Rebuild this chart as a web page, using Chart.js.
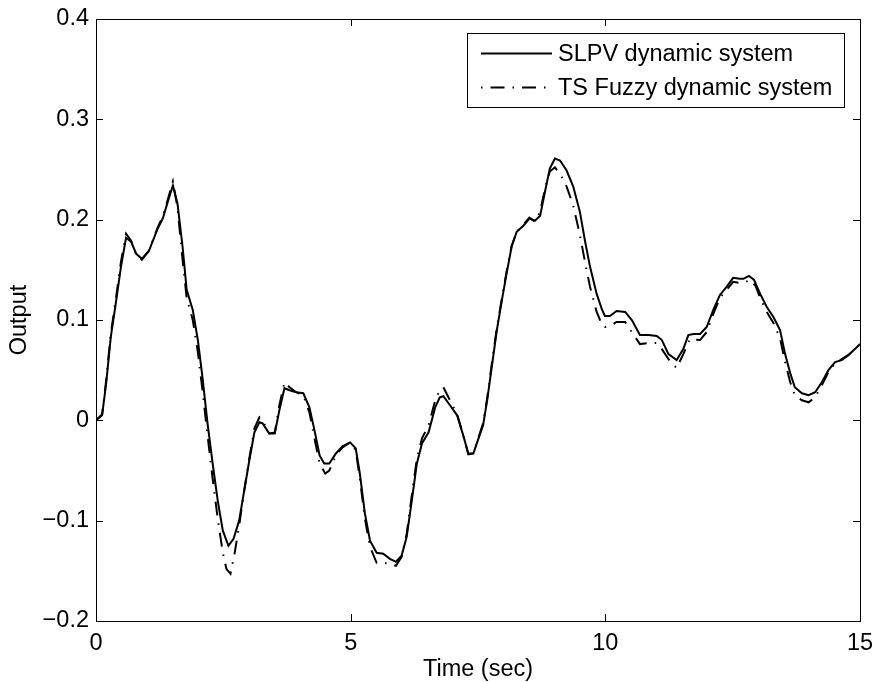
<!DOCTYPE html>
<html>
<head>
<meta charset="utf-8">
<script src="https://cdn.jsdelivr.net/npm/chart.js@4"></script>
<style>
html,body{margin:0;padding:0;background:#fff;}
#wrap{width:876px;height:682px;}
</style>
</head>
<body>
<div id="wrap"><canvas id="c" width="876" height="682"></canvas></div>
<script>
// ---- data ----
const seriesNames = ['SLPV dynamic system', 'TS Fuzzy dynamic system'];

const slpvTime = [0,0.12,0.2,0.29,0.39,0.49,0.59,0.69,0.79,0.90,1.04,1.21,1.31,1.41,1.51,1.60,1.70,1.78,1.90,2.00,2.09,2.19,2.29,2.39,2.49,2.60,2.70,2.81,2.91,3.01,3.11,3.21,3.27,3.40,3.51,3.60,3.70,3.80,3.93,4.07,4.19,4.29,4.39,4.48,4.58,4.71,4.84,4.99,5.10,5.18,5.28,5.38,5.51,5.64,5.77,5.89,6.00,6.10,6.20,6.30,6.40,6.53,6.66,6.75,6.82,6.95,7.09,7.21,7.31,7.41,7.51,7.60,7.68,7.77,7.87,7.97,8.06,8.16,8.26,8.39,8.51,8.62,8.72,8.82,8.91,9.01,9.11,9.24,9.37,9.50,9.60,9.70,9.83,9.93,9.99,10.09,10.22,10.39,10.52,10.68,10.85,11.01,11.11,11.24,11.40,11.53,11.63,11.73,11.86,11.99,12.12,12.25,12.38,12.51,12.64,12.71,12.82,12.92,13.04,13.17,13.30,13.43,13.53,13.63,13.72,13.86,13.99,14.12,14.25,14.38,14.51,14.64,14.77,14.90,15.00];
const slpvOutput = [0.000,0.005,0.037,0.083,0.117,0.153,0.182,0.178,0.166,0.161,0.169,0.191,0.201,0.218,0.234,0.216,0.173,0.130,0.110,0.080,0.043,-0.003,-0.043,-0.080,-0.110,-0.125,-0.118,-0.100,-0.070,-0.040,-0.012,-0.002,-0.003,-0.013,-0.013,0.010,0.032,0.030,0.028,0.027,0.013,-0.010,-0.035,-0.043,-0.043,-0.033,-0.026,-0.022,-0.028,-0.053,-0.093,-0.120,-0.132,-0.133,-0.138,-0.141,-0.135,-0.116,-0.080,-0.043,-0.023,-0.012,0.013,0.023,0.024,0.015,0.005,-0.015,-0.033,-0.033,-0.018,-0.005,0.020,0.053,0.090,0.120,0.146,0.173,0.188,0.194,0.201,0.199,0.204,0.229,0.251,0.261,0.259,0.249,0.233,0.208,0.179,0.153,0.126,0.111,0.104,0.104,0.109,0.108,0.100,0.085,0.085,0.084,0.080,0.066,0.060,0.071,0.085,0.086,0.086,0.093,0.110,0.125,0.133,0.142,0.141,0.141,0.144,0.140,0.126,0.113,0.103,0.090,0.066,0.047,0.033,0.027,0.025,0.028,0.038,0.050,0.058,0.060,0.065,0.071,0.076];

const tsTime = [0,0.12,0.2,0.29,0.39,0.49,0.59,0.69,0.79,0.90,1.04,1.21,1.31,1.41,1.51,1.60,1.70,1.78,1.90,2.00,2.09,2.19,2.29,2.39,2.49,2.56,2.64,2.72,2.81,2.91,3.01,3.11,3.21,3.27,3.40,3.51,3.60,3.70,3.80,3.93,4.07,4.19,4.29,4.39,4.50,4.58,4.71,4.84,4.99,5.10,5.18,5.28,5.38,5.51,5.64,5.77,5.89,6.00,6.10,6.20,6.30,6.40,6.53,6.66,6.75,6.82,6.95,7.09,7.21,7.31,7.41,7.51,7.60,7.68,7.77,7.87,7.97,8.06,8.16,8.26,8.39,8.51,8.62,8.72,8.82,8.91,9.01,9.11,9.24,9.37,9.50,9.60,9.70,9.83,9.93,9.99,10.09,10.22,10.39,10.52,10.68,10.85,11.01,11.11,11.24,11.40,11.53,11.66,11.86,11.99,12.12,12.25,12.38,12.51,12.64,12.71,12.85,12.95,13.04,13.17,13.30,13.43,13.53,13.63,13.72,13.86,13.99,14.12,14.25,14.38,14.51,14.64,14.77,14.90,15.00];
const tsOutput = [0.000,0.006,0.040,0.086,0.121,0.158,0.186,0.179,0.165,0.160,0.169,0.192,0.203,0.220,0.238,0.212,0.160,0.122,0.100,0.068,0.030,-0.015,-0.058,-0.098,-0.132,-0.148,-0.153,-0.133,-0.105,-0.070,-0.038,-0.008,0.003,0.000,-0.013,-0.012,0.015,0.038,0.033,0.028,0.025,0.008,-0.018,-0.043,-0.053,-0.050,-0.035,-0.027,-0.022,-0.030,-0.058,-0.098,-0.126,-0.142,-0.142,-0.143,-0.145,-0.136,-0.113,-0.075,-0.038,-0.018,-0.005,0.020,0.030,0.033,0.020,0.006,-0.015,-0.034,-0.033,-0.017,-0.003,0.022,0.056,0.092,0.122,0.148,0.174,0.188,0.195,0.202,0.198,0.208,0.232,0.248,0.252,0.246,0.233,0.214,0.185,0.158,0.133,0.108,0.096,0.093,0.094,0.098,0.098,0.088,0.076,0.077,0.077,0.071,0.061,0.052,0.066,0.081,0.080,0.088,0.106,0.122,0.130,0.138,0.137,0.137,0.140,0.134,0.122,0.108,0.097,0.082,0.058,0.038,0.025,0.020,0.018,0.023,0.035,0.048,0.057,0.061,0.065,0.071,0.076];

const xTicks = [0, 5, 10, 15];
const xTickLabels = ['0', '5', '10', '15'];
const yTicks = [-0.2, -0.1, 0, 0.1, 0.2, 0.3, 0.4];
const yTickLabels = ['\u22120.2', '\u22120.1', '0', '0.1', '0.2', '0.3', '0.4'];
const xTitle = 'Time (sec)';
const yTitle = 'Output';

// ---- chart ----
const FONT = '"Liberation Sans", Arial, Helvetica, sans-serif';
const FSIZE = 23.5;
const DASHDOT = [14, 8, 1.5, 8];

function toPoints(xs, ys) { return xs.map((x, i) => ({ x: x, y: ys[i] })); }

const framePlugin = {
  id: 'frame',
  afterDraw(chart) {
    const ctx = chart.ctx, a = chart.chartArea;
    const xs = chart.scales.x, ys = chart.scales.y;
    const TL = 7;
    ctx.save();
    ctx.strokeStyle = '#000';
    ctx.lineWidth = 1;
    ctx.setLineDash([]);
    ctx.beginPath();
    xTicks.forEach(v => {
      const px = Math.round(xs.getPixelForValue(v)) + 0.5;
      ctx.moveTo(px, a.bottom); ctx.lineTo(px, a.bottom - TL);
      ctx.moveTo(px, a.top); ctx.lineTo(px, a.top + TL);
    });
    yTicks.forEach(v => {
      const py = Math.round(ys.getPixelForValue(v)) + 0.5;
      ctx.moveTo(a.left, py); ctx.lineTo(a.left + TL, py);
      ctx.moveTo(a.right, py); ctx.lineTo(a.right - TL, py);
    });
    ctx.stroke();
    ctx.strokeRect(Math.round(a.left) + 0.5, Math.round(a.top) + 0.5,
                   Math.round(a.right - a.left), Math.round(a.bottom - a.top));

    // legend box
    const bx1 = a.right - 16, bx0 = bx1 - 377, by0 = a.top + 14, by1 = by0 + 74;
    ctx.fillStyle = '#fff';
    ctx.fillRect(bx0, by0, bx1 - bx0, by1 - by0);
    ctx.strokeRect(Math.round(bx0) + 0.5, Math.round(by0) + 0.5, Math.round(bx1 - bx0), Math.round(by1 - by0));
    const rows = [by0 + 19.5, by0 + 53.5];
    chart.data.datasets.forEach((ds, i) => {
      const y = Math.round(rows[i]) + 0.5;
      ctx.beginPath();
      ctx.lineWidth = 2;
      ctx.strokeStyle = ds.borderColor;
      if (ds.borderDash && ds.borderDash.length) {
        ctx.setLineDash([1.5, 8, 14, 8]);
      } else {
        ctx.setLineDash([]);
      }
      ctx.moveTo(bx0 + 14, y); ctx.lineTo(bx0 + 85, y);
      ctx.stroke();
      ctx.setLineDash([]);
      ctx.fillStyle = '#000';
      ctx.font = FSIZE + 'px ' + FONT;
      ctx.textBaseline = 'middle';
      ctx.textAlign = 'left';
      ctx.fillText(ds.label, bx0 + 91, y + 1);
    });
    ctx.restore();
  }
};

new Chart(document.getElementById('c'), {
  type: 'line',
  data: {
    datasets: [
      {
        label: seriesNames[0],
        data: toPoints(slpvTime, slpvOutput),
        borderColor: '#000',
        borderWidth: 2,
        pointRadius: 0,
        tension: 0,
        fill: false
      },
      {
        label: seriesNames[1],
        data: toPoints(tsTime, tsOutput),
        borderColor: '#000',
        borderWidth: 2,
        borderDash: DASHDOT,
        pointRadius: 0,
        tension: 0,
        fill: false
      }
    ]
  },
  options: {
    responsive: false,
    animation: false,
    devicePixelRatio: 1,
    layout: { padding: { top: 19, right: 16, left: 0, bottom: 0 } },
    plugins: { legend: { display: false }, tooltip: { enabled: false } },
    scales: {
      x: {
        type: 'linear',
        min: 0, max: 15,
        afterBuildTicks: s => { s.ticks = xTicks.map(v => ({ value: v })); },
        afterFit: s => { s.height = 61; s.paddingLeft = 0; s.paddingRight = 0; },
        grid: { display: false, drawTicks: false },
        border: { display: false },
        ticks: {
          color: '#000',
          font: { family: FONT, size: FSIZE },
          padding: 8,
          maxRotation: 0,
          autoSkip: false,
          callback: (v, i) => xTickLabels[i]
        },
        title: {
          display: true, text: xTitle, color: '#000',
          font: { family: FONT, size: FSIZE },
          padding: { top: 0, bottom: -2 }
        }
      },
      y: {
        type: 'linear',
        min: -0.2, max: 0.4,
        afterBuildTicks: s => { s.ticks = yTicks.map(v => ({ value: v })); },
        afterFit: s => { s.width = 96; s.paddingTop = 0; s.paddingBottom = 0; },
        grid: { display: false, drawTicks: false },
        border: { display: false },
        ticks: {
          color: '#000',
          font: { family: FONT, size: FSIZE },
          padding: 7,
          autoSkip: false,
          callback: (v, i) => yTickLabels[i]
        },
        title: {
          display: true, text: yTitle, color: '#000',
          font: { family: FONT, size: FSIZE },
          padding: { top: 5, bottom: 0 }
        }
      }
    }
  },
  plugins: [framePlugin]
});
</script>
</body>
</html>
